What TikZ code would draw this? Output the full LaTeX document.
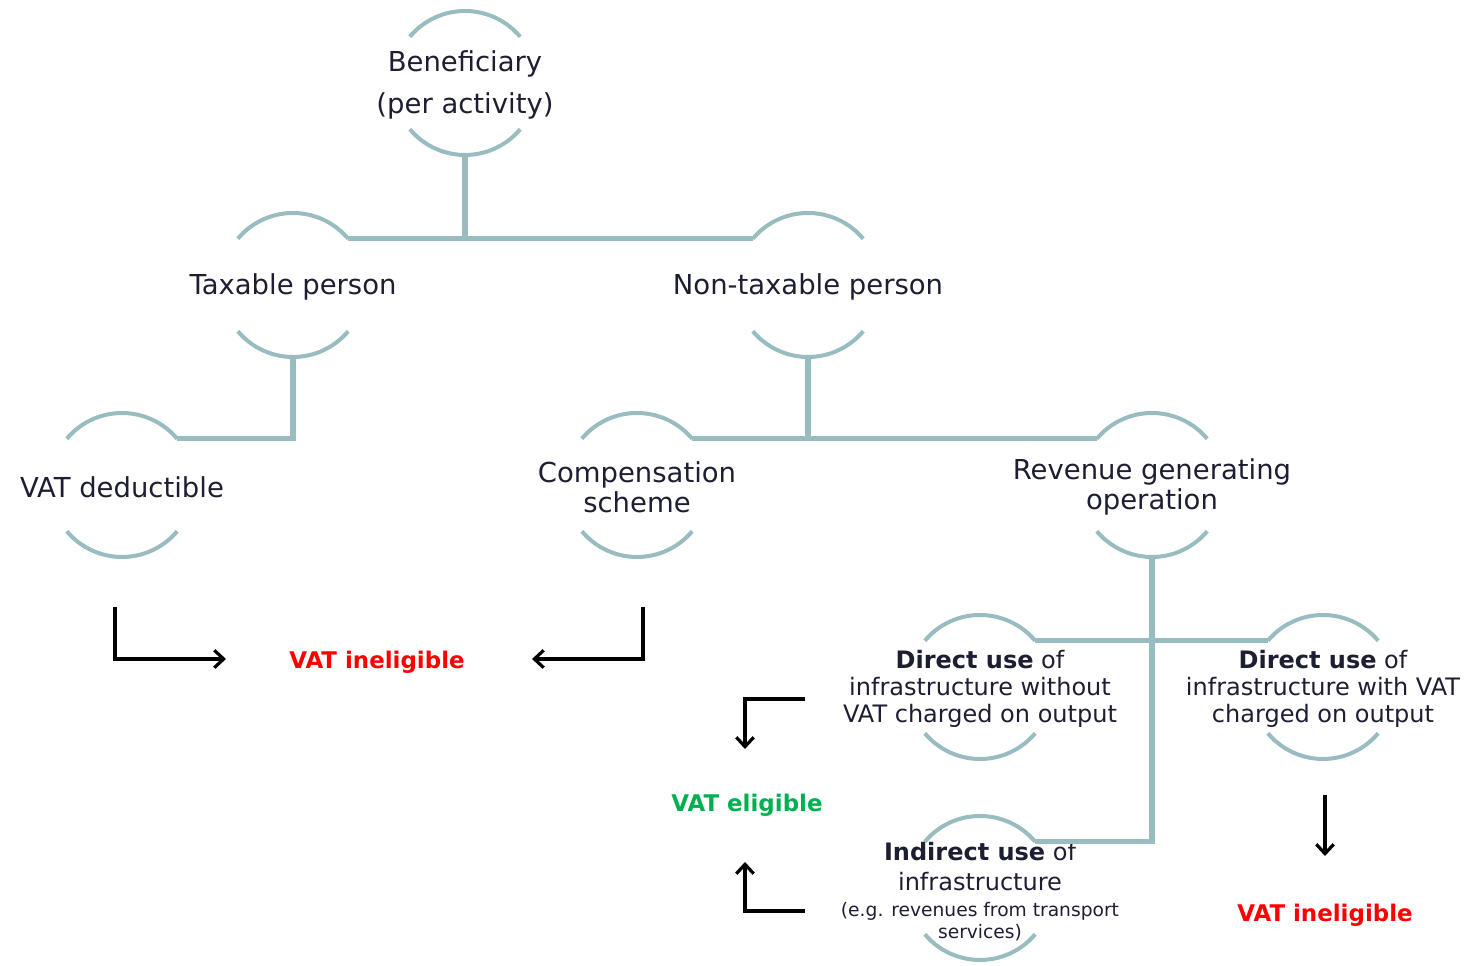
\documentclass[tikz,border=0pt]{standalone}
\usepackage{fontspec}
\setmainfont{DejaVu Sans}
\usetikzlibrary{arrows.meta,calc}
\definecolor{conn}{RGB}{152,188,192}
\definecolor{txt}{RGB}{30,30,50}
\definecolor{vred}{RGB}{255,0,0}
\definecolor{vgreen}{RGB}{0,176,80}
\newcommand\ringarcs[1]{%
  \draw[arcline] (#1.40) arc[start angle=40,end angle=140,radius=72];
  \draw[arcline] (#1.220) arc[start angle=220,end angle=320,radius=72];}
\begin{document}
\begin{tikzpicture}[x=0.75pt,y=0.75pt,
  ring/.style={circle,minimum size=108pt,inner sep=0pt,outer sep=0pt,draw=none},
  arcline/.style={draw=conn,line width=3pt},
  link/.style={draw=conn,line width=3.9pt},
  flow/.style={draw=black,line width=2.4pt,-{Straight Barb[length=7pt,width=13pt]}},
  lab/.style={text=txt,align=center,inner sep=0pt,yshift=-1.5pt},
  bigtxt/.style={font=\fontsize{20.6}{22.5}\selectfont},
  midtxt/.style={font=\fontsize{18}{20.25}\selectfont},
  verdict/.style={font=\fontsize{17.2}{20}\selectfont\bfseries,inner sep=0pt,yshift=-1.5pt}
]
\useasboundingbox (0,0) rectangle (1479,966);

% rings
\node[ring] (ben)  at (465,883) {};
\node[ring] (tax)  at (293,681) {};
\node[ring] (non)  at (808,681) {};
\node[ring] (ded)  at (122,481) {};
\node[ring] (comp) at (637,481) {};
\node[ring] (rev)  at (1152,481) {};
\node[ring] (dwo)  at (980,279) {};
\node[ring] (dw)   at (1323,279) {};
\node[ring] (ind)  at (980,78) {};

\ringarcs{ben}\ringarcs{tax}\ringarcs{non}\ringarcs{ded}\ringarcs{comp}
\ringarcs{rev}\ringarcs{dwo}\ringarcs{dw}\ringarcs{ind}

% texts
\node[lab,font=\fontsize{20.6}{31.5}\selectfont] (benT) at (ben.center) {Beneficiary\\(per activity)};
\node[lab,bigtxt] (taxT) at (tax.center) {Taxable person};
\node[lab,bigtxt] (nonT) at (non.center) {Non-taxable person};
\node[lab,bigtxt] (dedT) at (ded.center) {VAT deductible};
\node[lab,bigtxt] (compT) at (comp.center) {Compensation\\scheme};
\node[lab,bigtxt] (revT) at (rev.center) {Revenue generating\\operation};
\node[lab,midtxt] (dwoT) at (dwo.center) {\textbf{Direct use} of\\infrastructure without\\VAT charged on output};
\node[lab,midtxt] (dwT) at (dw.center) {\textbf{Direct use} of\\infrastructure with VAT\\charged on output};
\node[lab,font=\fontsize{14}{16.5}\selectfont] (indT) at ($(ind.center)+(0,-2)$)
  {\fontsize{18}{20}\selectfont\textbf{Indirect use} of\\[6pt]
   \fontsize{18}{20}\selectfont infrastructure\\[3pt]
   \fontsize{14}{16.5}\selectfont (e.g. revenues from transport\\
   \fontsize{14}{16.5}\selectfont services)};

% connectors
\draw[link] (ben.south) -- (ben.south |- tax.40);
\draw[link] (tax.40) -- (non.140);
\draw[link] (tax.south) |- (ded.40);
\draw[link] (non.south) -- (non.south |- comp.40);
\draw[link] (comp.40) -- (rev.140);
\draw[link] (rev.south) |- (ind.40);
\draw[link] (dwo.40) -- (dw.140);

% verdicts
\node[verdict,text=vred] (inelA) at (377,306) {VAT ineligible};
\node[verdict,text=vgreen] (elig) at (747,163) {VAT eligible};
\node[verdict,text=vred] (inelB) at (1325,53) {VAT ineligible};

% black arrows
\coordinate (a1s) at (115,359); \coordinate (a1e) at (226,307);
\coordinate (a2s) at (643,359); \coordinate (a2e) at (532,307);
\coordinate (a3s) at (805,267); \coordinate (a3e) at (745,217);
\coordinate (a4s) at (805,55);  \coordinate (a4e) at (745,104);
\coordinate (a5s) at (1325,171); \coordinate (a5e) at (1325,110);
\draw[flow] (a1s) |- (a1e);
\draw[flow] (a2s) |- (a2e);
\draw[flow] (a3s) -| (a3e);
\draw[flow] (a4s) -| (a4e);
\draw[flow] (a5s) -- (a5e);
\end{tikzpicture}
\end{document}
